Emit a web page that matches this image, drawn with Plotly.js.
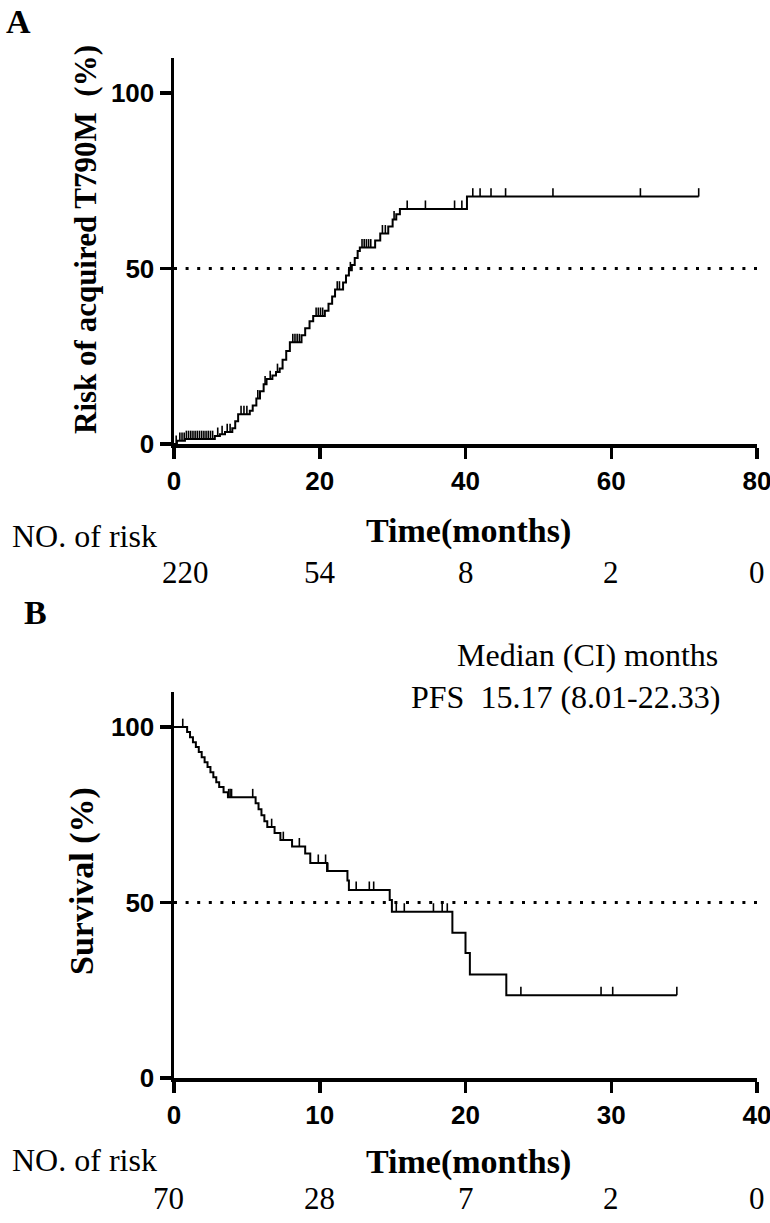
<!DOCTYPE html>
<html>
<head>
<meta charset="utf-8">
<script src="https://cdn.plot.ly/plotly-3.0.1.min.js"></script>
<style>
  html, body { margin: 0; padding: 0; background: #fff; }
  #chart { width: 770px; height: 1223px; }
</style>
</head>
<body>
<div id="chart"></div>
<script>
// ---------------- Panel A data: cumulative risk of acquired T790M ----------------
const A_time = [0, 0.4, 1.5, 5.6, 6.3, 7.0, 8.0, 8.4, 8.8, 10.4, 10.8, 11.3, 11.8, 12.3, 12.7, 13.5, 14.0, 14.5, 14.9, 15.4, 15.9, 17.5, 18.0, 18.6, 19.1, 20.7, 21.2, 21.7, 22.1, 23.2, 23.6, 24.0, 24.4, 24.8, 25.2, 25.5, 27.6, 28.3, 29.4, 30.0, 30.5, 31.0, 40.2, 72.0];
const A_risk = [0, 0.9, 1.4, 2.3, 2.8, 3.4, 4.5, 6.5, 8.5, 9.5, 11.0, 13.0, 15.0, 17.0, 18.5, 19.5, 20.5, 21.5, 24.0, 26.5, 29.0, 31.0, 33.0, 35.0, 36.5, 38.0, 40.0, 42.0, 44.0, 46.0, 48.0, 49.5, 51.0, 53.0, 55.0, 56.0, 58.0, 60.0, 62.0, 64.0, 65.5, 67.0, 70.5, 70.5];
const A_censor = [0.3, 0.8, 1.1, 1.4, 1.7, 2.0, 2.3, 2.6, 2.9, 3.2, 3.5, 3.8, 4.1, 4.4, 4.7, 5.0, 5.3, 6.0, 6.6, 7.3, 7.7, 9.2, 9.6, 10.0, 11.5, 12.5, 13.2, 14.2, 16.3, 16.6, 16.9, 17.2, 19.5, 19.8, 20.1, 20.4, 22.4, 22.7, 24.2, 25.8, 26.1, 26.4, 26.7, 27.0, 28.6, 29.0, 30.2, 32.0, 34.5, 38.5, 39.5, 41.0, 42.0, 43.5, 45.5, 52.0, 64.0, 72.0];
const A_ticks = [0, 20, 40, 60, 80];
const A_risk_numbers = ['220', '54', '8', '2', '0'];

// ---------------- Panel B data: progression-free survival ----------------
const B_time = [0, 0.9, 1.1, 1.3, 1.5, 1.7, 1.9, 2.1, 2.3, 2.5, 2.7, 2.9, 3.1, 3.4, 3.7, 5.6, 5.8, 6.0, 6.2, 6.4, 6.9, 7.3, 8.1, 9.0, 9.35, 10.5, 11.9, 12.0, 14.8, 14.95, 19.1, 20.0, 20.3, 22.8, 34.5];
const B_surv = [100, 98.6, 97.1, 95.7, 94.3, 92.9, 91.4, 90.0, 88.6, 87.1, 85.7, 84.3, 82.9, 81.4, 80.0, 78.3, 76.6, 74.9, 73.2, 71.5, 69.8, 67.8, 66.0, 64.0, 61.3, 59.0, 56.3, 53.6, 50.7, 47.4, 41.4, 35.6, 29.5, 23.6, 23.6];
const B_censor = [0.6, 3.75, 3.85, 3.95, 5.4, 6.7, 7.5, 8.6, 9.9, 10.4, 10.55, 12.5, 13.4, 13.7, 15.25, 15.8, 17.8, 18.4, 18.75, 23.8, 29.3, 30.1, 34.5];
const B_ticks = [0, 10, 20, 30, 40];
const B_risk_numbers = ['70', '28', '7', '2', '0'];

const medianLevel = 50;
const medianText = 'Median (CI) months';
const pfsText = 'PFS\u00a0\u00a015.17 (8.01-22.33)';

// ---------------- helpers ----------------
const W = 770, H = 1223;
const px = v => v / W;
const py = v => 1 - v / H;
function stepValue(times, vals, t) {
  let v = vals[0];
  for (let i = 0; i < times.length; i++) { if (times[i] <= t) v = vals[i]; }
  return v;
}
const SANS = 'Liberation Sans, Arial, sans-serif';
const SERIF = 'Liberation Serif, Times New Roman, serif';
const tickH = 2.4;

function censorTrace(times, vals, cens, xa, ya) {
  const y = cens.map(t => stepValue(times, vals, t));
  return {
    x: cens, y: y, xaxis: xa, yaxis: ya, mode: 'markers', type: 'scatter',
    marker: { size: 1, color: 'rgba(0,0,0,0)' },
    error_y: { type: 'data', symmetric: false, array: cens.map(() => tickH), arrayminus: cens.map(() => 0),
               width: 0, thickness: 1.6, color: '#000' },
    hoverinfo: 'skip', showlegend: false
  };
}

const traces = [
  { x: [0, A_ticks[A_ticks.length - 1]], y: [medianLevel, medianLevel], xaxis: 'x', yaxis: 'y', mode: 'lines',
    line: { color: '#000', width: 3, dash: '3px,8.6px' }, showlegend: false, hoverinfo: 'skip' },
  { x: A_time, y: A_risk, xaxis: 'x', yaxis: 'y', mode: 'lines', line: { shape: 'hv', color: '#000', width: 2 },
    showlegend: false },
  censorTrace(A_time, A_risk, A_censor, 'x', 'y'),
  { x: [0, B_ticks[B_ticks.length - 1]], y: [medianLevel, medianLevel], xaxis: 'x2', yaxis: 'y2', mode: 'lines',
    line: { color: '#000', width: 3, dash: '3px,8.6px' }, showlegend: false, hoverinfo: 'skip' },
  { x: B_time, y: B_surv, xaxis: 'x2', yaxis: 'y2', mode: 'lines', line: { shape: 'hv', color: '#000', width: 2 },
    showlegend: false },
  censorTrace(B_time, B_surv, B_censor, 'x2', 'y2')
];

const axisCommon = {
  showgrid: false, zeroline: false, showline: true, linecolor: '#000', linewidth: 3.5,
  ticks: 'outside', ticklen: 11, tickwidth: 3.5, tickcolor: '#000', ticklabeloverflow: 'allow',
  tickfont: { family: SANS, size: 26, color: '#000', weight: 700 }, fixedrange: true
};

const annotations = [];
function ann(text, x, y, opts) {
  annotations.push(Object.assign({ text: text, x: x, y: y, xref: 'paper', yref: 'paper', showarrow: false,
    xanchor: 'center', yanchor: 'middle' }, opts));
}
const boldSerif = s => ({ family: SERIF, size: s, color: '#000', weight: 700 });
const serif = s => ({ family: SERIF, size: s, color: '#000' });

// Panel labels
ann('A', px(18), py(21), { font: boldSerif(34) });
ann('B', px(35), py(612), { font: boldSerif(34) });
// Panel A titles
ann('Risk of acquired T790M\u00a0\u00a0(%)', px(85), py(240), { textangle: -90, font: boldSerif(31) });
ann('Time(months)', px(468), py(531), { font: boldSerif(34) });
ann('NO. of risk', px(10), py(536), { xanchor: 'left', font: serif(32) });
A_risk_numbers.forEach((t, i) => {
  annotations.push({ text: t, x: A_ticks[i], xref: 'x', y: py(572), yref: 'paper', showarrow: false,
    xanchor: 'center', yanchor: 'middle', xshift: i === 0 ? 11 : 0, font: serif(31) });
});
// Panel B titles
ann(medianText, px(720), py(655), { xanchor: 'right', font: serif(32) });
ann(pfsText, px(722), py(697), { xanchor: 'right', font: serif(32) });
ann('Survival (%)', px(82), py(881), { textangle: -90, font: boldSerif(34) });
ann('Time(months)', px(468), py(1162), { font: boldSerif(34) });
ann('NO. of risk', px(10), py(1160), { xanchor: 'left', font: serif(32) });
B_risk_numbers.forEach((t, i) => {
  annotations.push({ text: t, x: B_ticks[i], xref: 'x2', y: py(1198), yref: 'paper', showarrow: false,
    xanchor: 'center', yanchor: 'middle', xshift: i === 0 ? -6 : 0, font: serif(31) });
});

const layout = {
  width: W, height: H, margin: { l: 0, r: 0, t: 0, b: 0 },
  paper_bgcolor: '#fff', plot_bgcolor: '#fff', showlegend: false,
  xaxis: Object.assign({}, axisCommon, { domain: [px(174), px(757)], range: [0, 80], tickvals: A_ticks, anchor: 'y' }),
  yaxis: Object.assign({}, axisCommon, { domain: [py(444), py(58)], range: [0, 110], tickvals: [0, 50, 100], anchor: 'x' }),
  xaxis2: Object.assign({}, axisCommon, { domain: [px(174), px(757)], range: [0, 40], tickvals: B_ticks, anchor: 'y2' }),
  yaxis2: Object.assign({}, axisCommon, { domain: [py(1078), py(692)], range: [0, 110], tickvals: [0, 50, 100], anchor: 'x2' }),
  annotations: annotations
};

Plotly.newPlot('chart', traces, layout, { staticPlot: true, displayModeBar: false });
</script>
</body>
</html>
